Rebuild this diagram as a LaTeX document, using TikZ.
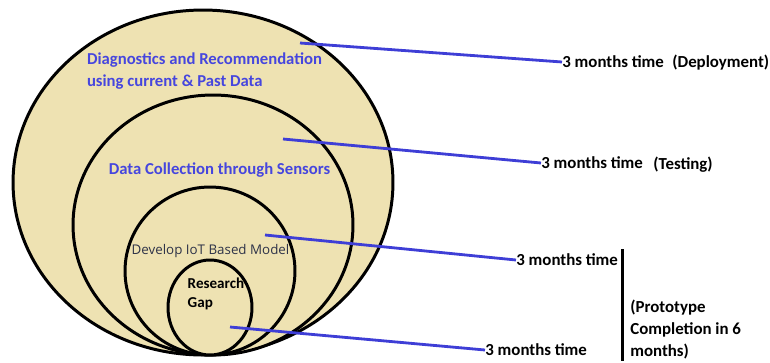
\documentclass[tikz,border=0pt]{standalone}
\usepackage{fontspec}
\setmainfont{Carlito}
\newfontfamily\modelfont{Open Sans}
\usepackage{tikz}
\usetikzlibrary{shapes,positioning}
\usepackage{xcolor}
\definecolor{stageblue}{RGB}{62,62,214}
\definecolor{stagetext}{RGB}{70,70,222}
\definecolor{stagefill}{RGB}{238,226,178}
\definecolor{modelgrey}{RGB}{45,50,72}
\tikzstyle{stage} = [ellipse, draw=black, fill=stagefill, line width=1.7pt, inner sep=0pt]
\tikzstyle{link} = [line width=1.6pt, color=stageblue]
\tikzstyle{phase} = [anchor=west, inner sep=0pt, font=\bfseries\fontsize{9.6}{12}\selectfont]
\tikzstyle{stagelabel} = [inner sep=0pt, color=stagetext, font=\bfseries\fontsize{9.5}{12.2}\selectfont, align=left]

\begin{document}
\begin{tikzpicture}[x=0.02cm, y=-0.02cm]
    \useasboundingbox (0,0) rectangle (770,362);

    % Nested stages
    \node[stage, minimum width=7.6cm, minimum height=6.9cm] (deploy) at (203,182.5) {};
    \node[stage, minimum width=5.6cm, minimum height=5.2cm] (sensors) at (213,225) {};
    \node[stage, minimum width=3.4cm, minimum height=3.36cm] (model) at (210,271) {};
    \node[stage, minimum width=1.68cm, minimum height=1.9cm] (gap) at (210,307.5) {};

    % Stage texts
    \node[stagelabel] (deploytext) at (204.5,71) {Diagnostics and Recommendation\\using current \& Past Data};
    \node[stagelabel] (sensortext) at (219.5,170) {Data Collection through Sensors};
    \node[inner sep=0pt, color=modelgrey, font=\modelfont\fontsize{7.6}{9}\selectfont] (modeltext) at (210.5,251) {Develop IoT Based Model};
    \node[inner sep=0pt, align=left, font=\bfseries\fontsize{8.6}{10.4}\selectfont] (gaptext) at (216,294) {Research\\Gap};

    % Time labels
    \node[phase] (t1) at (562,62) {3 months time};
    \node[phase] (d1) at (672,63) {(Deployment)};
    \node[phase] (t2) at (541,163) {3 months time};
    \node[phase] (d2) at (653,165) {(Testing)};
    \node[phase] (t3) at (516,260) {3 months time};
    \node[phase] (t4) at (485,350) {3 months time};
    \node[phase, anchor=north west, align=left, font=\bfseries\fontsize{9.6}{12.3}\selectfont] (proto) at (630,300) {(Prototype\\Completion in 6\\months)};

    % Links
    \coordinate (p1) at (300,43);
    \coordinate (p2) at (283,139);
    \coordinate (p3) at (265,235);
    \coordinate (p4) at (230,327);
    \draw[link] (p1) -- (t1.west);
    \draw[link] (p2) -- (t2.west);
    \draw[link] (p3) -- (t3.west);
    \draw[link] (p4) -- (t4.west);

    % Bar
    \coordinate (bartop) at (622,249);
    \coordinate (barbot) at (622,361);
    \draw[line width=1.7pt] (bartop) -- (barbot);
\end{tikzpicture}
\end{document}
